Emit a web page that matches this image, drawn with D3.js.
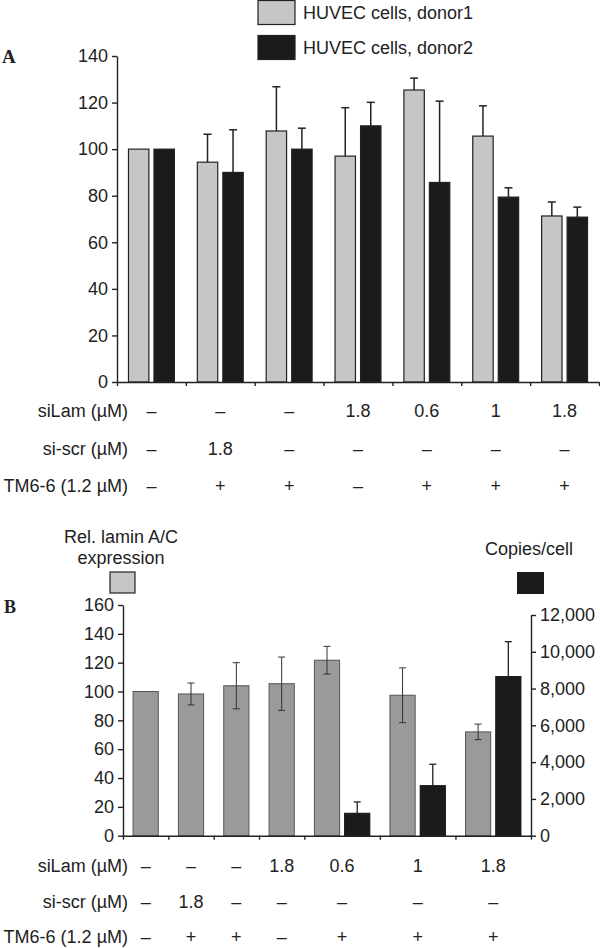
<!DOCTYPE html>
<html>
<head>
<meta charset="utf-8">
<title>HUVEC lamin A/C knockdown</title>
<style>
body { margin:0; background:#fff; }
svg { display:block; }
text { font-family:"Liberation Sans", Arial, sans-serif; fill:#222; }
.panel { font-family:"Liberation Serif", "Times New Roman", serif; font-weight:bold; }
.axis path, .axis line { stroke:#222; stroke-width:1.4px; }
.axis text { font-size:18px; fill:#222; }
</style>
</head>
<body>
<svg id="fig" width="600" height="948"></svg>
<script src="https://d3js.org/d3.v7.min.js"></script>
<script>

// --- conditions (table under both panels) ---
const siLam = ["\u2013", "\u2013", "\u2013", "1.8", "0.6", "1", "1.8"];
const siScr = ["\u2013", "1.8", "\u2013", "\u2013", "\u2013", "\u2013", "\u2013"];
const tm66  = ["\u2013", "+", "+", "\u2013", "+", "+", "+"];
const rowLabels = ["siLam (\u00b5M)", "si-scr (\u00b5M)", "TM6-6 (1.2 \u00b5M)"];

// --- panel A ---
const seriesA = ["HUVEC cells, donor1", "HUVEC cells, donor2"];
const donor1    = [100, 94.4, 107.8, 97.0, 125.4, 105.6, 71.3];
const donor1Err = [null, 12.0, 19.0, 20.8, 5.1, 13.0, 6.0];
const donor2    = [100, 90.0, 100.0, 110.0, 85.7, 79.4, 70.8];
const donor2Err = [null, 18.3, 9.0, 10.1, 34.9, 4.0, 4.3];
const ticksA = [0, 20, 40, 60, 80, 100, 120, 140];

// --- panel B ---
const legendB1 = ["Rel. lamin A/C", "expression"];
const legendB2 = "Copies/cell";
const lamin    = [100, 98.3, 104.0, 105.4, 121.7, 97.4, 72.0];
const laminErr = [null, 7.6, 16.0, 18.5, 9.6, 19.0, 5.4];
const copies    = [null, null, null, null, 1220, 2720, 8650];
const copiesErr = [null, null, null, null, 615, 1165, 1900];
const ticksBL = [0, 20, 40, 60, 80, 100, 120, 140, 160];
const ticksBR = [0, 2000, 4000, 6000, 8000, 10000, 12000];

const svg = d3.select("#fig");
const idx = d3.range(siLam.length);

function table(g, centers, baselines) {
  const rows = [siLam, siScr, tm66];
  rows.forEach(function(row, r) {
    g.append("text")
      .attr("x", 128).attr("y", baselines[r])
      .attr("text-anchor", "end").attr("font-size", 18)
      .text(rowLabels[r]);
    g.selectAll(null).data(row).enter().append("text")
      .attr("x", function(d, i) { return centers[i]; })
      .attr("y", baselines[r])
      .attr("text-anchor", "middle").attr("font-size", 18)
      .text(function(d) { return d; });
  });
}

/* ================= Panel A ================= */
const gA = svg.append("g");

let xA = d3.scaleBand().domain(idx).range([117, 599]),
    xEdgeA = d3.scaleLinear().domain([0, idx.length]).range([117, 599]),
    xInA = d3.scaleBand().domain([0, 1]).range([0, xA.bandwidth()])
      .paddingInner(0.2).paddingOuter(0.45),
    yA = d3.scaleLinear().domain([0, 140]).range([382, 56]);

gA.append("text").attr("class", "panel")
  .attr("x", 2).attr("y", 63).attr("font-size", 19).text("A");

// bars
const fillsA = ["#c6c6c6", "#1b1b1b"];
[donor1, donor2].forEach(function(vals, s) {
  gA.selectAll(null).data(vals).enter().append("rect")
    .attr("x", function(d, i) { return xA(i) + xInA(s); })
    .attr("y", function(d) { return yA(d); })
    .attr("width", xInA.bandwidth())
    .attr("height", function(d) { return yA(0) - yA(d); })
    .attr("fill", fillsA[s])
    .attr("stroke", "#222").attr("stroke-width", 1.2);
});

// error bars (upper only)
[[donor1, donor1Err], [donor2, donor2Err]].forEach(function(p, s) {
  const data = idx.filter(function(i) { return p[1][i] != null; });
  const cx = function(i) { return xA(i) + xInA(s) + xInA.bandwidth() / 2; };
  gA.selectAll(null).data(data).enter().append("line")
    .attr("x1", cx).attr("x2", cx)
    .attr("y1", function(i) { return yA(p[0][i]); })
    .attr("y2", function(i) { return yA(p[0][i] + p[1][i]); })
    .attr("stroke", "#222").attr("stroke-width", 1.5);
  gA.selectAll(null).data(data).enter().append("line")
    .attr("x1", function(i) { return cx(i) - 4; })
    .attr("x2", function(i) { return cx(i) + 4; })
    .attr("y1", function(i) { return yA(p[0][i] + p[1][i]); })
    .attr("y2", function(i) { return yA(p[0][i] + p[1][i]); })
    .attr("stroke", "#222").attr("stroke-width", 1.5);
});

// axes
gA.append("g").attr("class", "axis")
  .attr("transform", "translate(0," + yA(0) + ")")
  .call(d3.axisBottom(xEdgeA).tickValues(d3.range(idx.length + 1))
    .tickFormat("").tickSize(4).tickSizeOuter(0));
gA.append("g").attr("class", "axis")
  .attr("transform", "translate(117,0)")
  .call(d3.axisLeft(yA).tickValues(ticksA).tickSize(5).tickSizeOuter(0).tickPadding(4));

// legend
seriesA.forEach(function(name, s) {
  gA.append("rect")
    .attr("x", 258).attr("y", 0.5 + s * 35)
    .attr("width", 37).attr("height", 24)
    .attr("fill", fillsA[s]).attr("stroke", "#222").attr("stroke-width", 1.2);
  gA.append("text")
    .attr("x", 303).attr("y", 19 + s * 35).attr("font-size", 18)
    .text(name);
});

table(gA, idx.map(function(i) { return xA(i) + xA.bandwidth() / 2; }), [417, 455, 492]);

/* ================= Panel B ================= */
const gB = svg.append("g");

// group widths in bar units: padding + bars + inner gap
const padU = 0.8, gapU = 0.2;
const nBars = copies.map(function(d) { return d == null ? 1 : 2; });
const widthU = nBars.map(function(n) { return padU + n + (n - 1) * gapU; });
const startU = widthU.map(function(w, i) { return d3.sum(widthU.slice(0, i)); });

let xB = d3.scaleLinear().domain([0, d3.sum(widthU)]).range([123, 531]),
    yBL = d3.scaleLinear().domain([0, 160]).range([835.7, 605]),
    yBR = d3.scaleLinear().domain([0, 12000]).range([835.7, 615]);
const barW = xB(1) - xB(0);
const grayX = function(i) { return xB(startU[i] + padU / 2); };
const blackX = function(i) { return xB(startU[i] + padU / 2 + 1 + gapU); };

gB.append("text").attr("class", "panel")
  .attr("x", 4).attr("y", 613).attr("font-size", 18).text("B");

// gray bars (left axis)
gB.selectAll(null).data(idx).enter().append("rect")
  .attr("x", grayX)
  .attr("y", function(i) { return yBL(lamin[i]); })
  .attr("width", barW)
  .attr("height", function(i) { return yBL(0) - yBL(lamin[i]); })
  .attr("fill", "#9a9a9a").attr("stroke", "#555").attr("stroke-width", 1);

// black bars (right axis)
const withCopies = idx.filter(function(i) { return copies[i] != null; });
gB.selectAll(null).data(withCopies).enter().append("rect")
  .attr("x", blackX)
  .attr("y", function(i) { return yBR(copies[i]); })
  .attr("width", barW)
  .attr("height", function(i) { return yBR(0) - yBR(copies[i]); })
  .attr("fill", "#1b1b1b").attr("stroke", "#111").attr("stroke-width", 1);

// gray error bars (both ways)
const eg = idx.filter(function(i) { return laminErr[i] != null; });
const gcx = function(i) { return grayX(i) + barW / 2; };
gB.selectAll(null).data(eg).enter().append("line")
  .attr("x1", gcx).attr("x2", gcx)
  .attr("y1", function(i) { return yBL(lamin[i] - laminErr[i]); })
  .attr("y2", function(i) { return yBL(lamin[i] + laminErr[i]); })
  .attr("stroke", "#333").attr("stroke-width", 1);
[-1, 1].forEach(function(sgn) {
  gB.selectAll(null).data(eg).enter().append("line")
    .attr("x1", function(i) { return gcx(i) - 3.5; })
    .attr("x2", function(i) { return gcx(i) + 3.5; })
    .attr("y1", function(i) { return yBL(lamin[i] + sgn * laminErr[i]); })
    .attr("y2", function(i) { return yBL(lamin[i] + sgn * laminErr[i]); })
    .attr("stroke", "#333").attr("stroke-width", 1);
});

// black error bars (upper only)
const bcx = function(i) { return blackX(i) + barW / 2; };
gB.selectAll(null).data(withCopies).enter().append("line")
  .attr("x1", bcx).attr("x2", bcx)
  .attr("y1", function(i) { return yBR(copies[i]); })
  .attr("y2", function(i) { return yBR(copies[i] + copiesErr[i]); })
  .attr("stroke", "#222").attr("stroke-width", 1.3);
gB.selectAll(null).data(withCopies).enter().append("line")
  .attr("x1", function(i) { return bcx(i) - 3.5; })
  .attr("x2", function(i) { return bcx(i) + 3.5; })
  .attr("y1", function(i) { return yBR(copies[i] + copiesErr[i]); })
  .attr("y2", function(i) { return yBR(copies[i] + copiesErr[i]); })
  .attr("stroke", "#222").attr("stroke-width", 1.3);

// axes
gB.append("g").attr("class", "axis")
  .attr("transform", "translate(0," + yBL(0) + ")")
  .call(d3.axisBottom(xB).tickValues(startU.concat([d3.sum(widthU)]))
    .tickFormat("").tickSize(4).tickSizeOuter(0));
gB.append("g").attr("class", "axis")
  .attr("transform", "translate(123,0)")
  .call(d3.axisLeft(yBL).tickValues(ticksBL).tickSize(5).tickSizeOuter(0).tickPadding(4));
gB.append("g").attr("class", "axis")
  .attr("transform", "translate(531,0)")
  .call(d3.axisRight(yBR).tickValues(ticksBR).tickFormat(d3.format(","))
    .tickSize(5).tickSizeOuter(0).tickPadding(4));

// legend
legendB1.forEach(function(t, k) {
  gB.append("text").attr("x", 121).attr("y", 543 + k * 21)
    .attr("text-anchor", "middle").attr("font-size", 18).text(t);
});
gB.append("rect").attr("x", 110).attr("y", 572).attr("width", 25).attr("height", 21)
  .attr("fill", "#c6c6c6").attr("stroke", "#222").attr("stroke-width", 1.2);
gB.append("text").attr("x", 529).attr("y", 555)
  .attr("text-anchor", "middle").attr("font-size", 18).text(legendB2);
gB.append("rect").attr("x", 517).attr("y", 572).attr("width", 27).attr("height", 22)
  .attr("fill", "#1b1b1b");

table(gB, idx.map(function(i) {
  return xB(startU[i] + widthU[i] / 2);
}), [872, 908, 943]);

</script>
</body>
</html>
